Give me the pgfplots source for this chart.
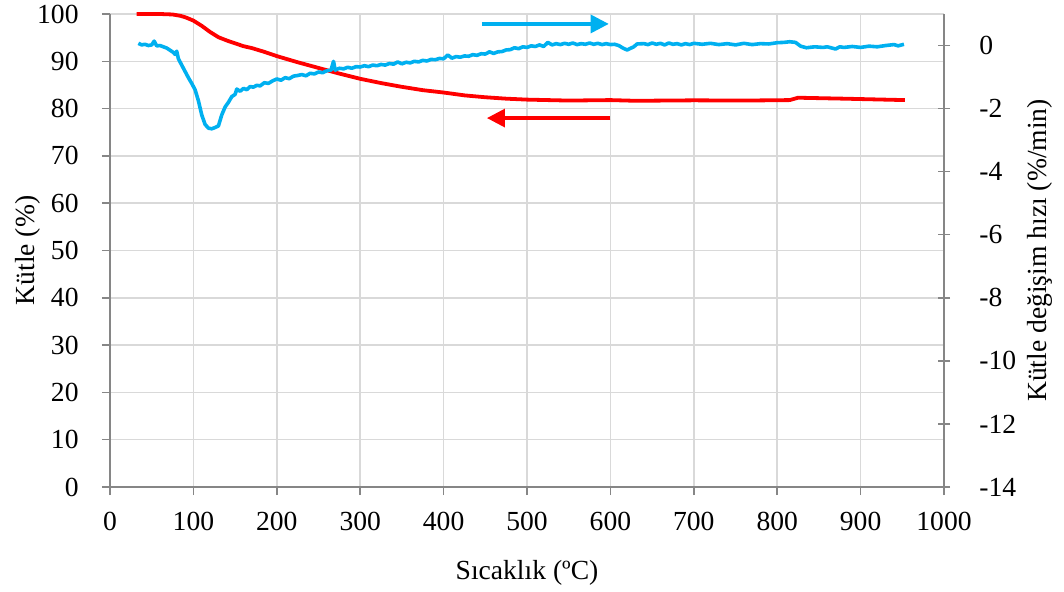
\documentclass[border=0pt]{standalone}
\usepackage{pgfplots}
\pgfplotsset{compat=1.18}
\usepackage{fontspec}
\setmainfont{Liberation Serif}
\usetikzlibrary{arrows.meta}
\definecolor{tgared}{HTML}{FF0000}
\definecolor{dtgblue}{HTML}{00B0F0}
\definecolor{axgray}{HTML}{868686}
\definecolor{grgray}{HTML}{D9D9D9}
\begin{document}
\fontsize{13.5}{16}\selectfont
\begin{tikzpicture}
\pgfplotsset{
  common/.style={
    width=417pt, height=236.5pt, scale only axis,
    xmin=0, xmax=1000,
    /pgf/number format/assume math mode=true,
    /pgf/number format/set thousands separator={},
    tick label style={font=\fontsize{13.8}{16}\selectfont, inner ysep=0.5pt},
    label style={font=\fontsize{13.8}{16}\selectfont, inner sep=1pt},
    axis line style={draw=axgray, line width=0.75pt},
    tick style={draw=axgray, line width=0.75pt},
    tick align=outside,
    major tick length=4pt,
  }
}
\begin{axis}[common,
  ymin=0, ymax=100,
  axis x line*=bottom, axis y line*=left,
  xtick={0,100,...,1000},
  ytick={0,10,...,100},
  grid=major,
  major grid style={draw=grgray, line width=0.75pt},
  xlabel={Sıcaklık (ºC)},
  ylabel={Kütle (\%)},
  xlabel style={at={(axis description cs:0.5,0)}, anchor=center, yshift=-43pt},
  ylabel style={at={(axis description cs:-0.098,0.5)}, anchor=center, rotate=0},
  xticklabel style={yshift=-8pt},
  yticklabel style={xshift=-7pt},
  clip=false,
]
\addplot[tgared, line width=1.9pt] coordinates {
(32,100) (60,100) (75,99.9) (85,99.6) (92,99.2) (100,98.6) (110,97.5) (120,96.2)
(130,95.1) (140,94.4) (150,93.8) (160,93.2) (170,92.8) (185,92.0) (200,91.1)
(225,89.8) (250,88.6) (275,87.4) (300,86.3) (325,85.4) (350,84.6) (375,83.9)
(400,83.4) (425,82.8) (450,82.4) (475,82.1) (500,81.9) (550,81.7) (600,81.8)
(630,81.65) (700,81.75) (760,81.7) (815,81.8) (825,82.3) (880,82.1) (953,81.8)
};
\draw[dtgblue, line width=1.6pt, -{Triangle[length=9pt,width=9pt]}] (axis cs:446,97.9) -- (axis cs:598,97.9);
\draw[tgared, line width=1.6pt, -{Triangle[length=9pt,width=9pt]}] (axis cs:600,78) -- (axis cs:452,78);
\path (rel axis cs:0,0) ++(-55pt,-52pt) (rel axis cs:1,1) ++(60pt,7pt);
\end{axis}
\begin{axis}[common,
  ymin=-14, ymax=1,
  axis x line=none, axis y line*=right,
  ytick={-14,-12,...,0},
  tick align=center, major tick length=6pt,
  ylabel={Kütle değişim hızı (\%/min)},
  ylabel style={at={(axis description cs:1.115,0.5)}, anchor=center, rotate=0},
  yticklabel style={xshift=10pt},
]
\addplot[dtgblue, line width=1.8pt, line join=round] coordinates {
(34,0.07) (38,0.02) (42,0.04) (46,0.0) (50,0.02) (53,0.14) (56,-0.01) (60,0.0)
(64,-0.04) (68,-0.08) (72,-0.15) (76,-0.22) (78,-0.28) (80,-0.18) (82,-0.42)
(86,-0.62) (90,-0.82) (94,-1.02) (98,-1.2) (102,-1.4) (106,-1.75) (110,-2.2)
(114,-2.5) (118,-2.62) (122,-2.64) (126,-2.6) (130,-2.55) (134,-2.2) (138,-1.95)
(142,-1.8) (146,-1.62) (150,-1.55) (152,-1.38) (156,-1.45) (160,-1.36) (164,-1.4)
(168,-1.3) (172,-1.32) (176,-1.26) (180,-1.28) (185,-1.18) (190,-1.2) (195,-1.12)
(200,-1.06) (205,-1.1) (210,-1.02) (215,-1.05) (220,-0.97) (225,-0.95) (230,-0.92)
(235,-0.96) (240,-0.88) (245,-0.9) (250,-0.84) (255,-0.86) (260,-0.8) (265,-0.78)
(268,-0.5) (270,-0.78) (275,-0.72) (280,-0.74) (285,-0.69) (290,-0.72) (295,-0.67)
(300,-0.68) (305,-0.64) (310,-0.67) (315,-0.62) (320,-0.64) (325,-0.6) (330,-0.62)
(335,-0.57) (340,-0.59) (345,-0.52) (350,-0.58) (355,-0.53) (360,-0.55) (365,-0.5)
(370,-0.52) (375,-0.47) (380,-0.49) (385,-0.44) (390,-0.45) (395,-0.41) (400,-0.42)
(405,-0.3) (410,-0.4) (415,-0.35) (420,-0.37) (425,-0.33) (430,-0.34) (435,-0.29)
(440,-0.31) (445,-0.26) (450,-0.27) (455,-0.2) (460,-0.25) (465,-0.2) (470,-0.19)
(475,-0.14) (480,-0.13) (485,-0.07) (490,-0.1) (495,-0.04) (500,-0.06) (505,-0.01)
(510,-0.03) (515,0.02) (520,-0.03) (525,0.1) (530,0.02) (535,0.06) (540,0.03)
(545,0.07) (550,0.04) (555,0.08) (560,0.03) (565,0.06) (570,0.04) (575,0.08)
(580,0.04) (585,0.07) (590,0.03) (595,0.06) (600,0.03) (605,0.04) (610,0.0)
(615,-0.08) (620,-0.14) (624,-0.09) (628,-0.04) (632,0.05) (640,0.06) (645,0.03)
(650,0.08) (655,0.04) (660,0.07) (665,0.02) (670,0.08) (675,0.04) (680,0.06)
(685,0.02) (690,0.06) (695,0.03) (700,0.07) (710,0.04) (720,0.07) (730,0.03)
(740,0.06) (750,0.02) (760,0.07) (770,0.03) (780,0.06) (790,0.05) (800,0.09)
(808,0.1) (815,0.12) (822,0.1) (828,-0.02) (835,-0.07) (845,-0.04) (855,-0.06)
(860,-0.04) (870,-0.11) (875,-0.04) (880,-0.06) (890,-0.03) (900,-0.06) (910,-0.02)
(920,-0.04) (930,0.0) (940,0.03) (945,-0.01) (952,0.04)
};
\end{axis}
\end{tikzpicture}
\end{document}
